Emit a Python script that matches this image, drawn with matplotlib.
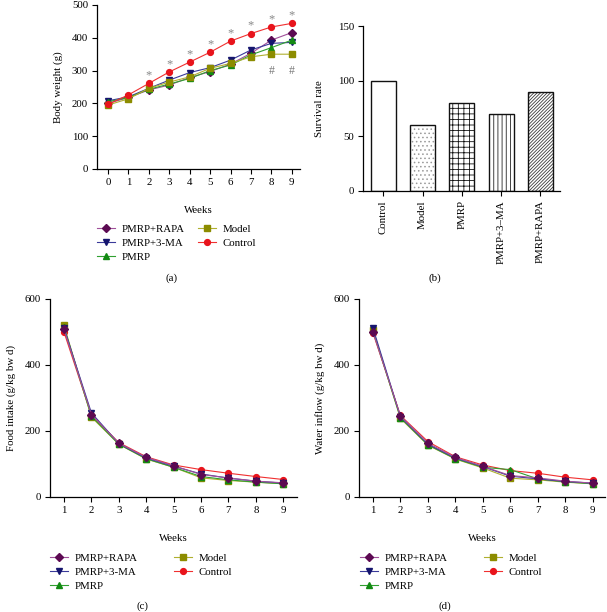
import numpy as np
import matplotlib
matplotlib.use("Agg")
import matplotlib.pyplot as plt

plt.rcParams['font.family'] = ['Liberation Serif', 'DejaVu Serif']
plt.rcParams['font.size'] = 7.8
plt.rcParams['hatch.linewidth'] = 0.6
plt.rcParams['axes.linewidth'] = 0.9

# groups and styles
groups = ["PMRP+RAPA", "PMRP+3-MA", "PMRP", "Model", "Control"]
markers = ["D", "v", "^", "s", "o"]
mcolors = ["#5c0a52", "#15156e", "#138a13", "#8c8c00", "#e8141c"]
lcolors = ["#a0509a", "#3a3a9a", "#30a030", "#b0b030", "#f03030"]

# (a) body weight, weeks 0-9
weeks_a = [0, 1, 2, 3, 4, 5, 6, 7, 8, 9]
bw_rapa = [200, 218, 241, 256, 279, 297, 320, 353, 393, 416]
bw_3ma = [208, 220, 246, 271, 294, 309, 332, 363, 383, 386]
bw_pmrp = [205, 218, 243, 259, 276, 300, 317, 348, 370, 393]
bw_model = [195, 214, 246, 265, 281, 307, 322, 342, 350, 350]
bw_control = [197, 226, 261, 296, 326, 356, 390, 413, 433, 444]
star_weeks = [2, 3, 4, 5, 6, 7, 8, 9]
hash_weeks = [8, 9]

# (b) survival rate
surv_groups = ["Control", "Model", "PMRP", "PMRP+3\u2013MA", "PMRP+RAPA"]
surv_rate = [100, 60, 80, 70, 90]
surv_hatch = ["", "....", "+++", "||||", "//////////"]
hatch_col = ["#111111", "#9a9a9a", "#111111", "#222222", "#3a3a3a"]

# (c) food intake, weeks 1-9
weeks_c = [1, 2, 3, 4, 5, 6, 7, 8, 9]
fi_rapa = [508, 250, 163, 120, 95, 68, 58, 48, 43]
fi_3ma = [512, 255, 162, 118, 93, 70, 57, 48, 42]
fi_pmrp = [515, 245, 160, 116, 90, 62, 52, 45, 40]
fi_model = [520, 242, 160, 115, 90, 58, 50, 45, 40]
fi_control = [500, 248, 165, 122, 97, 83, 72, 62, 53]

# (d) water inflow, weeks 1-9
wi_rapa = [500, 245, 163, 120, 93, 65, 58, 48, 42]
wi_3ma = [512, 243, 160, 118, 92, 63, 55, 47, 42]
wi_pmrp = [505, 240, 158, 116, 90, 83, 55, 46, 40]
wi_model = [505, 238, 157, 115, 88, 57, 52, 45, 40]
wi_control = [497, 247, 168, 122, 97, 80, 72, 60, 52]

W, H = 607, 612
fig = plt.figure(figsize=(W / 100, H / 100), dpi=100)


def box(l, t, r, b):
    return [l / W, 1 - b / H, (r - l) / W, (b - t) / H]


def style(ax):
    ax.spines['top'].set_visible(False)
    ax.spines['right'].set_visible(False)
    ax.tick_params(direction='out', length=3.5, width=0.8, pad=3, labelsize=7.8)


def lines(ax, x, series, order):
    for i in order:
        ax.plot(x, series[i], color=lcolors[i], lw=0.8, marker=markers[i],
                markersize=4.2, markerfacecolor=mcolors[i], markeredgecolor=mcolors[i],
                label=groups[i], zorder=3 + order.index(i))


def legend(ax, x0, y0, colsp):
    h, l = ax.get_legend_handles_labels()
    idx = [l.index(g) for g in groups]
    ax.legend([h[i] for i in idx], [l[i] for i in idx], ncol=2, frameon=False,
              loc='upper left', bbox_to_anchor=(x0 / W, 1 - y0 / H),
              bbox_transform=fig.transFigure, fontsize=7.8, handlelength=1.7,
              handletextpad=0.6, columnspacing=colsp, labelspacing=0.42,
              borderaxespad=0, borderpad=0)


# (a)
ax = fig.add_axes(box(97, 5, 300, 169))
style(ax)
lines(ax, weeks_a, [bw_rapa, bw_3ma, bw_pmrp, bw_model, bw_control], [0, 1, 2, 3, 4])
for w in star_weeks:
    ax.text(w, bw_control[w] + 24, "*", color="#888888", ha='center', va='center', fontsize=9)
for w in hash_weeks:
    ax.text(w, 300, "#", color="#777777", ha='center', va='center', fontsize=8.5)
ax.set_xlim(-0.54, 9.4)
ax.set_ylim(0, 500)
ax.set_xticks(weeks_a)
ax.set_yticks([0, 100, 200, 300, 400, 500])
ax.set_ylabel("Body weight (g)", fontsize=7.8, labelpad=6)
ax.set_xlabel("Weeks", fontsize=7.8, labelpad=14)
legend(ax, 97, 224, 1.2)
fig.text(172 / W, 1 - 278 / H, "(a)", ha='center', va='center', fontsize=7.8)

# (b)
ax = fig.add_axes(box(363, 26, 560, 191))
style(ax)
xb = np.arange(len(surv_groups))
for i in range(len(surv_groups)):
    ax.bar(xb[i], surv_rate[i], width=0.64, color='white', edgecolor=hatch_col[i],
           linewidth=0, hatch=surv_hatch[i])
    ax.bar(xb[i], surv_rate[i], width=0.64, fill=False, edgecolor='#111111',
           linewidth=1.0)
ax.set_xlim(-0.52, 4.5)
ax.set_ylim(0, 150)
ax.set_yticks([0, 50, 100, 150])
ax.set_xticks(xb)
ax.set_xticklabels(surv_groups, rotation=90)
ax.set_ylabel("Survival rate", fontsize=7.8, labelpad=10)
fig.text(435 / W, 1 - 278 / H, "(b)", ha='center', va='center', fontsize=7.8)

# (c)
ax = fig.add_axes(box(50, 299, 297, 497))
style(ax)
lines(ax, weeks_c, [fi_rapa, fi_3ma, fi_pmrp, fi_model, fi_control], [4, 3, 2, 1, 0])
ax.set_xlim(0.49, 9.5)
ax.set_ylim(0, 600)
ax.set_xticks(weeks_c)
ax.set_yticks([0, 200, 400, 600])
ax.set_ylabel("Food intake (g/kg bw d)", fontsize=7.8, labelpad=6)
ax.set_xlabel("Weeks", fontsize=7.8, labelpad=14)
legend(ax, 50, 553, 3.3)
fig.text(142 / W, 1 - 606 / H, "(c)", ha='center', va='center', fontsize=7.8)

# (d)
ax = fig.add_axes(box(359, 299, 605, 497))
style(ax)
lines(ax, weeks_c, [wi_rapa, wi_3ma, wi_pmrp, wi_model, wi_control], [4, 3, 2, 1, 0])
ax.set_xlim(0.49, 9.45)
ax.set_ylim(0, 600)
ax.set_xticks(weeks_c)
ax.set_yticks([0, 200, 400, 600])
ax.set_ylabel("Water inflow (g/kg bw d)", fontsize=7.8, labelpad=6)
ax.set_xlabel("Weeks", fontsize=7.8, labelpad=14)
legend(ax, 360, 553, 3.3)
fig.text(445 / W, 1 - 606 / H, "(d)", ha='center', va='center', fontsize=7.8)

fig.savefig("out.png", dpi=100)
